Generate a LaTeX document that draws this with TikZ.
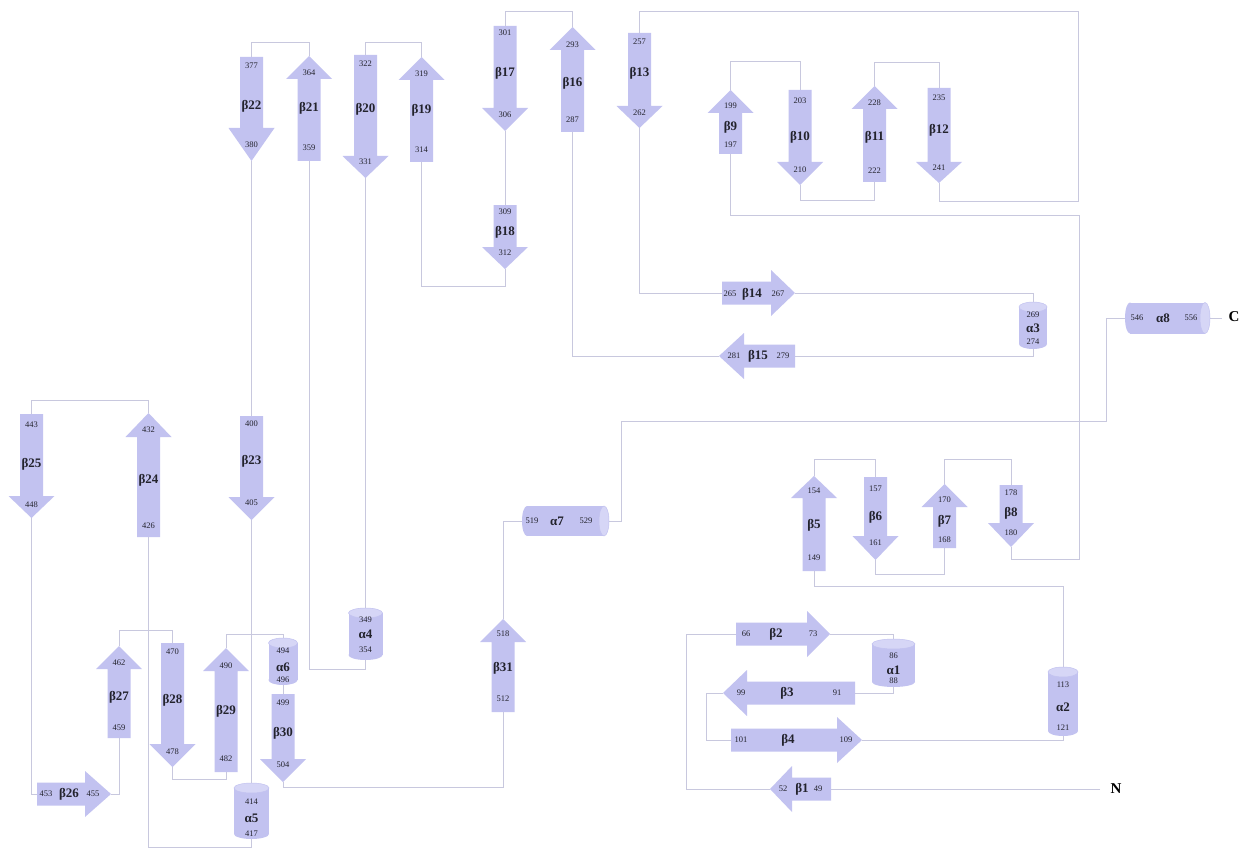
\documentclass[tikz,border=0pt]{standalone}
\usepackage{fontspec}
\setmainfont{Liberation Serif}
\definecolor{strandc}{RGB}{194,194,240}
\definecolor{capc}{RGB}{214,214,246}
\definecolor{linec}{RGB}{200,200,222}
\definecolor{txtc}{RGB}{35,35,45}
\pgfdeclarelayer{bg}
\pgfsetlayers{bg,main}
\tikzset{
  strand/.style={fill=strandc},
  conn/.style={draw=linec,line width=0.9pt},
  num/.style={inner sep=0pt,text=txtc,font=\fontsize{8.5}{9}\selectfont},
  lab/.style={inner sep=0pt,text=txtc,font=\fontsize{13}{14}\selectfont\bfseries},
  term/.style={inner sep=0pt,text=black,font=\fontsize{15}{16}\selectfont\bfseries}
}
% down strand: name, cx, top, headbase, tip
\newcommand\dnS[5]{%
  \fill[strand] ({#2-11.5},#3) -- ({#2+11.5},#3) -- ({#2+11.5},#4) -- ({#2+23},#4) -- (#2,#5) -- ({#2-23},#4) -- ({#2-11.5},#4) -- cycle;
  \coordinate (#1-t) at (#2,#3); \coordinate (#1-b) at (#2,#5);}
% up strand: name, cx, tip, headbase, bottom
\newcommand\upS[5]{%
  \fill[strand] (#2,#3) -- ({#2+23},#4) -- ({#2+11.5},#4) -- ({#2+11.5},#5) -- ({#2-11.5},#5) -- ({#2-11.5},#4) -- ({#2-23},#4) -- cycle;
  \coordinate (#1-t) at (#2,#3); \coordinate (#1-b) at (#2,#5);}
% right strand: name, cy, left, headbase, tip
\newcommand\rtS[5]{%
  \fill[strand] (#3,{#2-11.5}) -- (#4,{#2-11.5}) -- (#4,{#2-23}) -- (#5,#2) -- (#4,{#2+23}) -- (#4,{#2+11.5}) -- (#3,{#2+11.5}) -- cycle;
  \coordinate (#1-l) at (#3,#2); \coordinate (#1-r) at (#5,#2);}
% left strand: name, cy, tip, headbase, right
\newcommand\ltS[5]{%
  \fill[strand] (#3,#2) -- (#4,{#2-23}) -- (#4,{#2-11.5}) -- (#5,{#2-11.5}) -- (#5,{#2+11.5}) -- (#4,{#2+11.5}) -- (#4,{#2+23}) -- cycle;
  \coordinate (#1-l) at (#3,#2); \coordinate (#1-r) at (#5,#2);}
% vertical helix: name, cx, top, bottom, half width
\newcommand\vcyl[5]{%
  \fill[strand] ({#2-#5},{#3+5}) rectangle ({#2+#5},{#4-5});
  \fill[strand] (#2,{#4-5}) ellipse [x radius=#5pt, y radius=5pt];
  \filldraw[fill=capc,draw=strandc,line width=0.5pt] (#2,{#3+5}) ellipse [x radius=#5pt, y radius=5pt];
  \coordinate (#1-t) at (#2,#3); \coordinate (#1-b) at (#2,#4);}
% horizontal helix: name, cy, left, right, half height
\newcommand\hcyl[5]{%
  \fill[strand] ({#3+5},{#2-#5}) rectangle ({#4-5},{#2+#5});
  \fill[strand] ({#3+5},#2) ellipse [x radius=5pt, y radius=#5pt];
  \filldraw[fill=capc,draw=strandc,line width=0.5pt] ({#4-5},#2) ellipse [x radius=5pt, y radius=#5pt];
  \coordinate (#1-l) at (#3,#2); \coordinate (#1-r) at (#4,#2);}
% labels vertical: name, x, y1, t1, y2, t2, y3, t3
\newcommand\labV[8]{%
  \node[num] (#1-n1) at (#2,#3) {#4};
  \node[lab] (#1-n2) at (#2,#5) {#6};
  \node[num] (#1-n3) at (#2,#7) {#8};}
% labels horizontal: name, y, x1, t1, x2, t2, x3, t3
\newcommand\labH[8]{%
  \node[num] (#1-n1) at (#3,#2) {#4};
  \node[lab] (#1-n2) at (#5,#2) {#6};
  \node[num] (#1-n3) at (#7,#2) {#8};}
\begin{document}
\begin{tikzpicture}[x=1pt,y=-1pt]
\begin{pgfonlayer}{bg}
\fill[white] (0,0) rectangle (1251,848);
\end{pgfonlayer}
\useasboundingbox (0,0) rectangle (1251,848);
% ---- down strands
\dnS{b22}{251.5}{57}{128}{161}   \labV{b22}{251.5}{66}{377}{106}{β22}{145}{380}
\dnS{b20}{365.5}{55}{156}{178}   \labV{b20}{365.5}{64}{322}{109}{β20}{162}{331}
\dnS{b17}{505}{26}{108}{131}     \labV{b17}{505}{33}{301}{73}{β17}{115}{306}
\dnS{b18}{505}{205}{247}{269}    \labV{b18}{505}{212}{309}{232}{β18}{253}{312}
\dnS{b13}{639.5}{33}{106}{128}   \labV{b13}{639.5}{42}{257}{73}{β13}{113}{262}
\dnS{b10}{800}{90}{162}{185}     \labV{b10}{800}{101}{203}{137}{β10}{170}{210}
\dnS{b12}{939}{88}{162}{183}     \labV{b12}{939}{98}{235}{130}{β12}{168}{241}
\dnS{b25}{31.5}{414}{496}{518}   \labV{b25}{31.5}{425}{443}{464}{β25}{505}{448}
\dnS{b23}{251.5}{416}{497}{520}  \labV{b23}{251.5}{424}{400}{461}{β23}{503}{405}
\dnS{b28}{172.5}{643}{744}{767}  \labV{b28}{172.5}{652}{470}{700}{β28}{752}{478}
\dnS{b30}{283}{694}{759}{782}    \labV{b30}{283}{703}{499}{733}{β30}{765}{504}
\dnS{b6}{875.5}{477}{536}{560}   \labV{b6}{875.5}{489}{157}{517}{β6}{543}{161}
\dnS{b8}{1011}{485}{523}{547}    \labV{b8}{1011}{493}{178}{513}{β8}{533}{180}
% ---- up strands
\upS{b21}{309}{56}{79}{161}      \labV{b21}{309}{73}{364}{108}{β21}{148}{359}
\upS{b19}{421.5}{57}{80}{162}    \labV{b19}{421.5}{74}{319}{110}{β19}{150}{314}
\upS{b16}{572.5}{27}{50}{132}    \labV{b16}{572.5}{45}{293}{83}{β16}{120}{287}
\upS{b9}{730.5}{90}{113}{154}    \labV{b9}{730.5}{106}{199}{127}{β9}{145}{197}
\upS{b11}{874.5}{86}{109}{182}   \labV{b11}{874.5}{103}{228}{137}{β11}{171}{222}
\upS{b24}{148.5}{413}{437}{537}  \labV{b24}{148.5}{430}{432}{480}{β24}{526}{426}
\upS{b27}{119}{646}{669}{738}    \labV{b27}{119}{663}{462}{697}{β27}{728}{459}
\upS{b29}{226}{648}{671}{772}    \labV{b29}{226}{666}{490}{711}{β29}{759}{482}
\upS{b5}{814}{476}{498}{571}     \labV{b5}{814}{491}{154}{525}{β5}{558}{149}
\upS{b7}{944.5}{484}{507}{548}   \labV{b7}{944.5}{500}{170}{521}{β7}{540}{168}
\upS{b31}{503}{619}{642}{712}    \labV{b31}{503}{634}{518}{668}{β31}{699}{512}
% ---- right strands
\rtS{b14}{293}{722}{771}{795}    \labH{b14}{294}{730}{265}{752}{β14}{778}{267}
\rtS{b2}{634}{736}{807}{830}     \labH{b2}{634}{746}{66}{776}{β2}{813}{73}
\rtS{b4}{740}{731}{837}{862}     \labH{b4}{740}{741}{101}{788}{β4}{846}{109}
\rtS{b26}{794}{37}{85}{111}      \labH{b26}{794}{46}{453}{69}{β26}{93}{455}
% ---- left strands
\ltS{b15}{356}{719}{744}{795}    \labH{b15}{356}{734}{281}{758}{β15}{783}{279}
\ltS{b3}{693}{723}{747}{855}     \labH{b3}{693}{741}{99}{787}{β3}{837}{91}
\ltS{b1}{789}{770}{792}{831}     \labH{b1}{789}{783}{52}{802}{β1}{818}{49}
% ---- helices
\vcyl{a3}{1033}{302}{349}{14}    \labV{a3}{1033}{315}{269}{328}{α3}{342}{274}
\vcyl{a1}{893.5}{639}{687}{21.5} \labV{a1}{893.5}{656}{86}{670}{α1}{681}{88}
\vcyl{a2}{1063}{667}{736}{15}    \labV{a2}{1063}{685}{113}{707}{α2}{728}{121}
\vcyl{a4}{365.5}{608}{660}{17}   \labV{a4}{365.5}{620}{349}{634}{α4}{650}{354}
\vcyl{a6}{283}{638}{685}{14.5}   \labV{a6}{283}{651}{494}{667}{α6}{680}{496}
\vcyl{a5}{251.5}{783}{839}{17.5} \labV{a5}{251.5}{802}{414}{818}{α5}{834}{417}
\hcyl{a7}{521}{522}{609}{15}     \labH{a7}{521}{532}{519}{557}{α7}{586}{529}
\hcyl{a8}{318}{1125}{1210}{15.5} \labH{a8}{318}{1137}{546}{1163}{α8}{1191}{556}
% ---- termini
\node[term] (Nterm) at (1116,789) {N};
\node[term] (Cterm) at (1234,317) {C};
\coordinate (Nend) at (1100,789);
\coordinate (Cend) at (1222,318);
% ---- connectors
\begin{pgfonlayer}{bg}
\draw[conn] (Nend) -- (b1-r);
\draw[conn] (b1-l) -- (686,789) -- (686,634) -- (b2-l);
\draw[conn] (b2-r) -| (a1-t);
\draw[conn] (a1-b) |- (b3-r);
\draw[conn] (b3-l) -- (706,693) -- (706,740) -- (b4-l);
\draw[conn] (b4-r) -| (a2-b);
\draw[conn] (a2-t) -- (1063,586) -| (b5-b);
\draw[conn] (b5-t) -- (814,459) -| (b6-t);
\draw[conn] (b6-b) -- (875.5,574) -| (b7-b);
\draw[conn] (b7-t) -- (944.5,459) -| (b8-t);
\draw[conn] (b8-b) -- (1011,559) -- (1079,559) -- (1079,215) -| (b9-b);
\draw[conn] (b9-t) -- (730.5,61) -| (b10-t);
\draw[conn] (b10-b) -- (800,200) -| (b11-b);
\draw[conn] (b11-t) -- (874.5,62) -| (b12-t);
\draw[conn] (b12-b) -- (939,201) -- (1078,201) -- (1078,11) -| (b13-t);
\draw[conn] (b13-b) |- (b14-l);
\draw[conn] (b14-r) -| (a3-t);
\draw[conn] (a3-b) |- (b15-r);
\draw[conn] (b15-l) -| (b16-b);
\draw[conn] (b16-t) -- (572.5,11) -| (b17-t);
\draw[conn] (b17-b) -- (b18-t);
\draw[conn] (b18-b) -- (505,286) -| (b19-b);
\draw[conn] (b19-t) -- (421.5,42) -| (b20-t);
\draw[conn] (b20-b) -- (a4-t);
\draw[conn] (a4-b) -- (365.5,669) -| (b21-b);
\draw[conn] (b21-t) -- (309,42) -| (b22-t);
\draw[conn] (b22-b) -- (b23-t);
\draw[conn] (b23-b) -- (a5-t);
\draw[conn] (a5-b) -- (251.5,847) -| (b24-b);
\draw[conn] (b24-t) -- (148.5,400) -| (b25-t);
\draw[conn] (b25-b) |- (b26-l);
\draw[conn] (b26-r) -| (b27-b);
\draw[conn] (b27-t) -- (119,630) -| (b28-t);
\draw[conn] (b28-b) -- (172.5,779) -| (b29-b);
\draw[conn] (b29-t) -- (226,634) -| (a6-t);
\draw[conn] (a6-b) -- (b30-t);
\draw[conn] (b30-b) -- (283,787) -| (b31-b);
\draw[conn] (b31-t) |- (a7-l);
\draw[conn] (a7-r) -- (621,521) -- (621,421) -- (1106,421) |- (a8-l);
\draw[conn] (a8-r) -- (Cend);
\end{pgfonlayer}
\end{tikzpicture}
\end{document}
